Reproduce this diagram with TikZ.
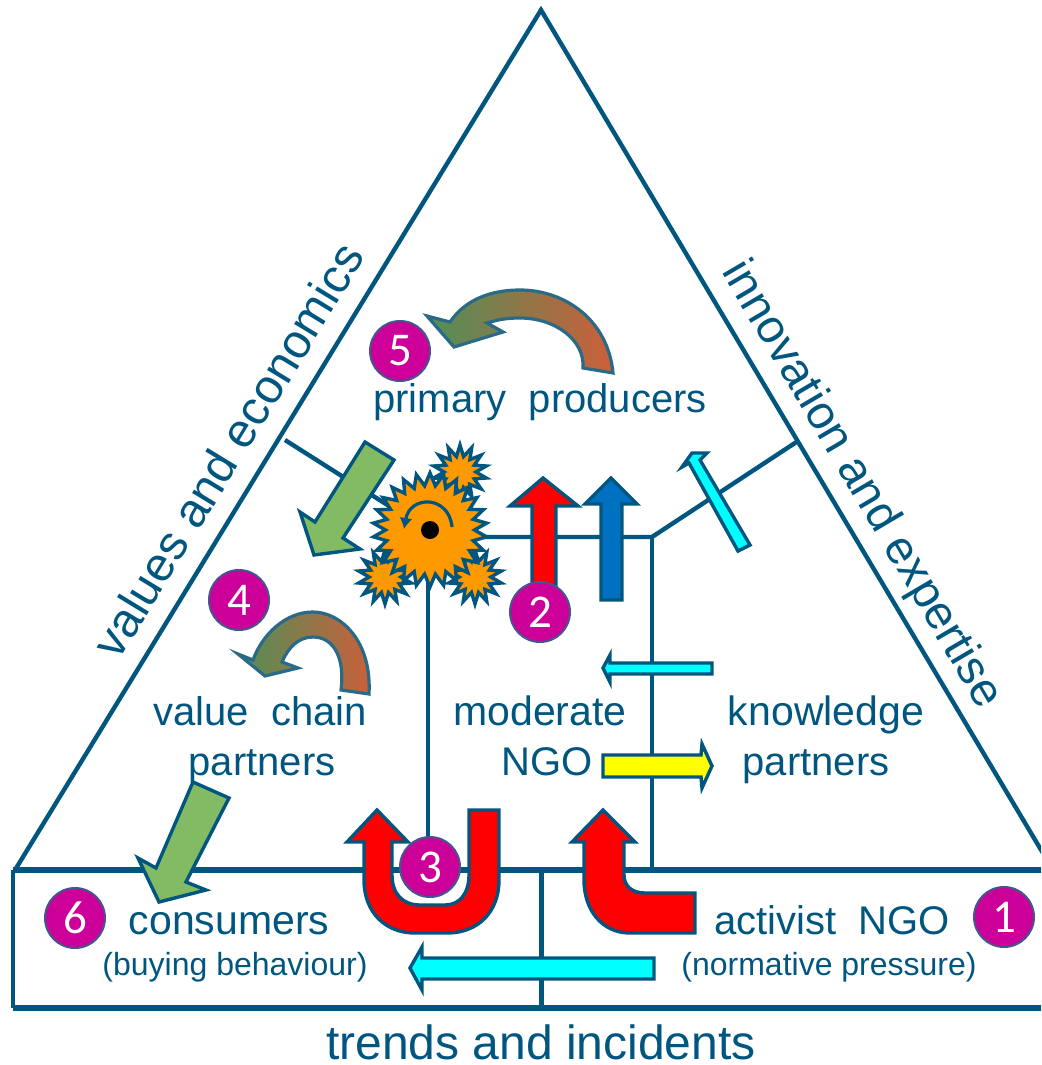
\documentclass[tikz,border=0pt]{standalone}
\usepackage{fontspec}
\setmainfont{Liberation Sans}
\newfontfamily\badgefont{Carlito}
\usetikzlibrary{arrows.meta,shapes.geometric}
\definecolor{linecol}{HTML}{015680}
\definecolor{bordercol}{HTML}{2A6A86}
\definecolor{badgecol}{HTML}{CC0099}
\definecolor{badgeedge}{HTML}{45558F}
\definecolor{leafgreen}{HTML}{82BB63}
\definecolor{gearcol}{HTML}{FF9900}
\definecolor{bluecol}{HTML}{0070C0}
\definecolor{swirlgreen}{HTML}{4F9058}
\definecolor{swirlred}{HTML}{CC5F3A}
\definecolor{aqua}{HTML}{00FFFF}
\definecolor{lemon}{HTML}{FFFF00}
\definecolor{signal}{HTML}{FF0000}
\tikzset{
  spoke/.style={draw=linecol,line width=4.4pt},
  frame/.style={draw=linecol,line width=5.6pt},
  flow/.style={draw=linecol,line width=3.4pt,miter limit=8},
  swirl/.style={draw=bordercol,line width=3.2pt,left color=swirlgreen,right color=swirlred},
  bigtxt/.style={anchor=base,text=linecol,font=\fontsize{48}{54}\selectfont},
  midtxt/.style={anchor=base,text=linecol,font=\fontsize{40}{46}\selectfont},
  widetxt/.style={anchor=base,text=linecol,font=\fontsize{41}{46}\selectfont},
  smalltxt/.style={anchor=base,text=linecol,font=\fontsize{32}{36}\selectfont},
  badge/.style={circle,draw=badgeedge,fill=badgecol,line width=2pt,minimum size=60pt,inner sep=0pt,text=white,font=\badgefont\fontsize{47}{47}\selectfont},
  biggear/.style={star,star points=26,star point ratio=1.28,minimum size=114pt,inner sep=0pt,draw=linecol,fill=gearcol,line width=3.4pt},
  smallgear/.style={star,star points=14,star point ratio=1.7,minimum size=54pt,inner sep=0pt,draw=linecol,fill=gearcol,line width=3.4pt}
}
\begin{document}
\begin{tikzpicture}[x=1pt,y=-1pt]
\useasboundingbox (0,0) rectangle (1041,1065);
\clip (0,0) rectangle (1041,1065);

% junctions and free ends
\coordinate (apex) at (541,10);
\coordinate (triL) at (15,870);
\coordinate (triR) at (1053,870);
\coordinate (boxTL) at (13,870);
\coordinate (boxBL) at (13,1008);
\coordinate (boxTR) at (1050,870);
\coordinate (boxBR) at (1050,1008);
\coordinate (boxTM) at (541,870);
\coordinate (boxBM) at (541,1008);
\coordinate (hub) at (430,532);
\coordinate (hubE) at (440,537);
\coordinate (hubS) at (428,550);
\coordinate (forkR) at (652,537);
\coordinate (spokeL) at (285,440);
\coordinate (spokeR) at (798,441);
\coordinate (forkS) at (652,870);
\coordinate (hubEnd) at (428,870);

% triangle and lower box
\path[spoke] (triL) -- (apex) -- (triR);
\path[spoke] (boxTL) -- (boxBL);
\path[frame] (boxTL) -- (boxTR);
\path[frame] (boxBL) -- (boxBR);
\path[spoke,line width=5pt] (boxTM) -- (boxBM);

% inner lines
\path[spoke] (spokeL) -- (hub);
\path[spoke] (hubE) -- (forkR) -- (spokeR);
\path[spoke] (forkR) -- (forkS);
\path[spoke] (hubS) -- (hubEnd);

% block arrows
\path[flow,fill=leafgreen] (365,442) -- (394,460) -- (343,538) -- (360,549) -- (314,555) -- (300,512) -- (315,522) -- cycle;
\path[flow,fill=leafgreen] (193,782) -- (229,798) -- (186,882) -- (206,890) -- (159,902) -- (138,858) -- (156,868) -- cycle;
\path[flow,fill=signal] (543,478) -- (578,506) -- (556,506) -- (556,590) -- (532,590) -- (532,506) -- (510,506) -- cycle;
\path[flow,fill=bluecol] (611,478) -- (637,504) -- (622,504) -- (622,600) -- (601,600) -- (601,504) -- (585,504) -- cycle;
\path[flow,fill=aqua] (738,551) -- (750,545) -- (700,460) -- (707,453) -- (692,453) -- (682,467) -- (689,463) -- cycle;
\path[flow,fill=aqua] (712,663) -- (610,663) -- (610,655) -- (603,668) -- (610,682) -- (610,674) -- (712,674) -- cycle;
\path[flow,fill=lemon] (603,755) -- (701,755) -- (702,744) -- (712,766) -- (702,788) -- (701,777) -- (603,777) -- cycle;
\path[flow,fill=aqua] (654,958) -- (422,958) -- (422,947) -- (410,968) -- (422,990) -- (422,979) -- (654,979) -- cycle;
\path[flow,fill=signal] (377,810) -- (408,842) -- (392,842) -- (392,875) .. controls (392,893) and (402,905) .. (420,905) -- (445,905) .. controls (460,905) and (469,893) .. (469,875) -- (469,810) -- (499,810) -- (499,880) .. controls (499,912) and (478,933) .. (447,933) -- (415,933) .. controls (385,933) and (364,912) .. (364,880) -- (364,842) -- (347,842) -- cycle;
\path[flow,fill=signal] (603,810) -- (635,842) -- (624,842) -- (624,875) .. controls (624,886) and (632,893) .. (645,893) -- (695,893) -- (695,933) -- (630,933) .. controls (602,933) and (584,910) .. (584,880) -- (584,842) -- (572,842) -- cycle;

% swirls
\path[swirl] (613,373) .. controls (608,320) and (565,290) .. (520,290) .. controls (490,290) and (465,300) .. (450,322) -- (427,316) -- (454,347) -- (503,332) -- (487,323) .. controls (497,320) and (505,318) .. (520,318) .. controls (555,318) and (585,340) .. (583,368) -- cycle;
\path[swirl] (369,694) .. controls (372,640) and (340,612) .. (313,612) .. controls (285,612) and (262,635) .. (253,660) -- (238,654) -- (265,676) -- (298,668) -- (282,662) .. controls (288,648) and (298,637) .. (313,637) .. controls (335,637) and (345,660) .. (341,690) -- cycle;

% gears
\node[smallgear] (gearN) at (460,472) {};
\node[smallgear] (gearW) at (385,577) {};
\node[smallgear] (gearE) at (475,577) {};
\node[biggear] (gearC) at (430,530) {};
\node[circle,fill=black,minimum size=18pt,inner sep=0pt] (gearDot) at (430,530) {};
\draw[line width=3.2pt,draw=linecol,-{Latex[length=11pt,width=13pt]}] (452,527) .. controls (449,495) and (410,495) .. (404,529);

% labels
\node[midtxt] (primary) at (540,412) {primary\ \ producers};
\node[midtxt] (valchain) at (260,725) {value\ \ chain};
\node[midtxt] (valpart) at (262,775) {partners};
\node[widetxt] (moderate) at (540,725) {moderate};
\node[midtxt] (ngo) at (547,775) {NGO};
\node[widetxt] (knowledge) at (826,725) {knowledge};
\node[midtxt] (knowpart) at (816,775) {partners};
\node[widetxt] (consumers) at (229,934) {consumers};
\node[smalltxt] (buying) at (235,975) {(buying behaviour)};
\node[midtxt] (activist) at (832,934) {activist\ \ NGO};
\node[smalltxt] (normative) at (829,975) {(normative pressure)};
\node[bigtxt] (trends) at (541,1059) {trends and incidents};
\node[bigtxt,anchor=center,rotate=58.6] (values) at (228,450) {values and economics};
\node[bigtxt,anchor=center,rotate=-59.5,font=\fontsize{47}{54}\selectfont] (innovation) at (861,485) {innovation and expertise};

% numbers
\node[badge] (one) at (1004,917) {1};
\node[badge] (two) at (540,612) {2};
\node[badge] (three) at (430,867) {3};
\node[badge] (four) at (239,600) {4};
\node[badge] (five) at (400,351) {5};
\node[badge] (six) at (75,918) {6};
\end{tikzpicture}
\end{document}
